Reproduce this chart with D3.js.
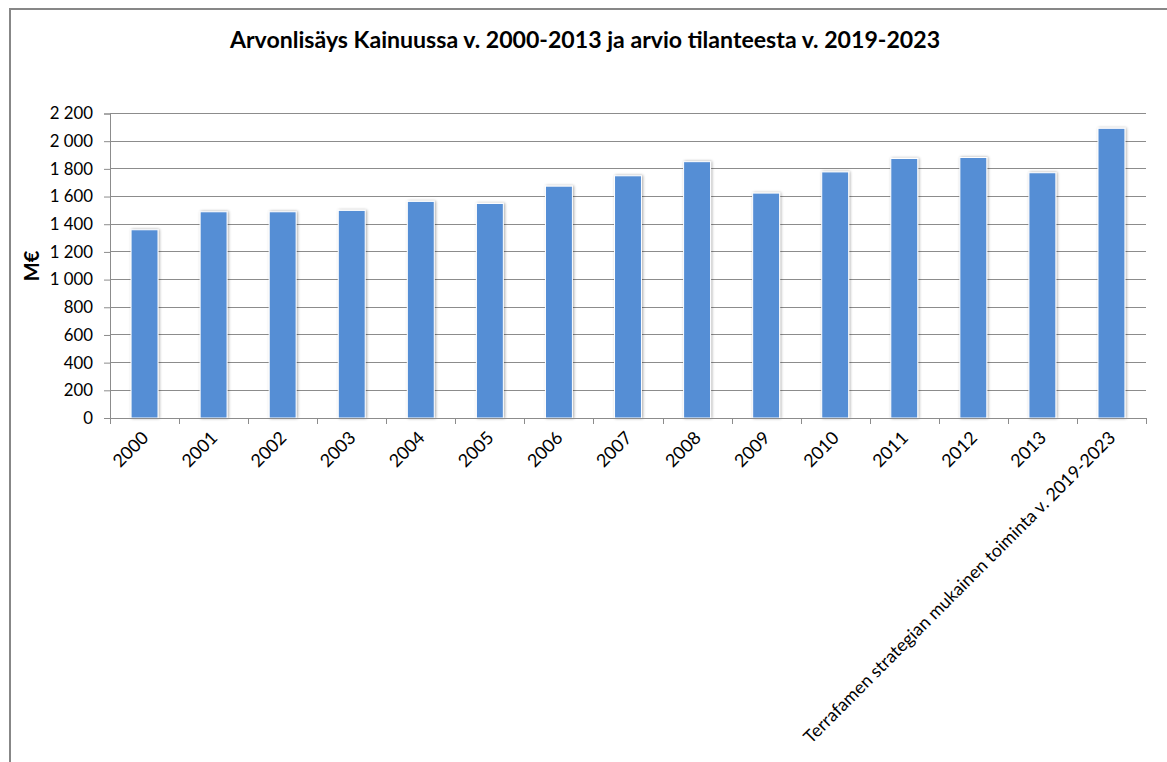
<!DOCTYPE html>
<html>
<head>
<meta charset="utf-8">
<script src="https://cdnjs.cloudflare.com/ajax/libs/d3/7.8.5/d3.min.js"></script>
<style>
  html, body { margin: 0; padding: 0; background: #fff; }
  svg { display: block; }
  text { font-family: Lato, "Open Sans", "DejaVu Sans", sans-serif; fill: #000; }
</style>
</head>
<body>
<svg id="chart" width="1167" height="762"></svg>
<script>
const title = "Arvonlisäys Kainuussa v. 2000-2013 ja arvio tilanteesta v. 2019-2023";
const yAxisTitle = "M€";
const categories = ["2000","2001","2002","2003","2004","2005","2006","2007","2008","2009","2010","2011","2012","2013","Terrafamen strategian mukainen toiminta v. 2019-2023"];
const values = [1360, 1490, 1490, 1500, 1565, 1550, 1675, 1750, 1852, 1625, 1778, 1875, 1882, 1772, 2093];
const yTicks = [0,200,400,600,800,1000,1200,1400,1600,1800,2000,2200];

const svg = d3.select("#chart");
const W = 1167, H = 762;
const m = { left: 110, right: 21, top: 113.5, bottom: 344 };
const plotW = W - m.left - m.right;
const plotH = H - m.top - m.bottom;

// frame
svg.append("line").attr("x1", 10).attr("x2", W).attr("y1", 9).attr("y2", 9)
  .attr("stroke", "#878787").attr("stroke-width", 2);
svg.append("line").attr("x1", 10).attr("x2", 10).attr("y1", 8).attr("y2", H)
  .attr("stroke", "#878787").attr("stroke-width", 2);

const defs = svg.append("defs");
const f = defs.append("filter").attr("id", "shadow").attr("x", "-30%").attr("y", "-10%").attr("width", "160%").attr("height", "120%");
f.append("feGaussianBlur").attr("in", "SourceAlpha").attr("stdDeviation", 1.6).attr("result", "b");
f.append("feOffset").attr("in", "b").attr("dx", 1).attr("dy", 0).attr("result", "o");
f.append("feComponentTransfer").attr("in", "o").attr("result", "s")
  .append("feFuncA").attr("type", "linear").attr("slope", 0.35);
const mg = f.append("feMerge");
mg.append("feMergeNode").attr("in", "s");
mg.append("feMergeNode").attr("in", "SourceGraphic");

const g = svg.append("g").attr("transform", `translate(${m.left},${m.top})`);

const x = d3.scaleBand().domain(categories).range([0, plotW]).paddingInner(0.61).paddingOuter(0.305);
const y = d3.scaleLinear().domain([0, 2200]).range([plotH, 0]);

const fmt = v => d3.format(",")(v).replace(/,/g, " ");

// gridlines
g.append("g").selectAll("line").data(yTicks.filter(d => d > 0)).join("line")
  .attr("x1", 0).attr("x2", plotW)
  .attr("y1", d => y(d)).attr("y2", d => y(d))
  .attr("stroke", "#8c8c8c").attr("stroke-width", 1).attr("shape-rendering", "crispEdges");

// bars
g.append("g").selectAll("rect").data(values).join("rect")
  .attr("x", (d, i) => x(categories[i]))
  .attr("width", x.bandwidth())
  .attr("y", d => y(d))
  .attr("height", d => plotH - y(d))
  .attr("fill", "#558ed5")
  .attr("stroke", "#ffffff").attr("stroke-width", 1)
  .attr("filter", "url(#shadow)");

// y axis
const yAxis = d3.axisLeft(y).tickValues(yTicks).tickFormat(fmt).tickSize(6).tickPadding(11);
const ya = g.append("g").call(yAxis);
ya.select(".domain").attr("stroke", "#8c8c8c").attr("d", `M-6,0.5H0.5V${plotH}`);
ya.selectAll(".tick line").attr("stroke", "#8c8c8c");
ya.selectAll(".tick text").style("font-size", "16.8px").attr("fill", "#000")
  .style("font-family", "Lato, 'Open Sans', sans-serif");

// x axis ticks at band boundaries
const step = x.step();
const xa = g.append("g").attr("transform", `translate(0,${plotH})`);
xa.append("line").attr("x1", 0).attr("x2", plotW).attr("y1", 0.5).attr("y2", 0.5).attr("stroke", "#8c8c8c");
xa.selectAll("line.tk").data(d3.range(categories.length + 1)).join("line").attr("class", "tk")
  .attr("x1", d => Math.round(d * step) + 0.5).attr("x2", d => Math.round(d * step) + 0.5)
  .attr("y1", 0).attr("y2", 6).attr("stroke", "#8c8c8c");
const xl = xa.selectAll("text").data(categories).join("text")
  .attr("transform", d => `translate(${x(d) + x.bandwidth() / 2 + 5},${21}) rotate(-45)`)
  .attr("text-anchor", "end")
  .style("font-size", "16px")
  .text(d => d);
// fit the longest label to reference length
const longW = xl.filter((d, i) => i === categories.length - 1).node().getComputedTextLength();
xl.style("font-size", (16 * 432 / longW).toFixed(2) + "px");

// y-axis title
svg.append("text")
  .attr("transform", `translate(38.5,${266}) rotate(-90)`)
  .attr("text-anchor", "middle")
  .style("font-size", "20px").style("font-weight", "bold")
  .text(yAxisTitle);

// title
const t = svg.append("text")
  .attr("x", 585).attr("y", 47.5)
  .attr("text-anchor", "middle")
  .style("font-size", "21px").style("font-weight", "bold")
  .text(title);
const tw = t.node().getComputedTextLength();
t.style("font-size", (21 * 710 / tw).toFixed(2) + "px");
</script>
</body>
</html>
